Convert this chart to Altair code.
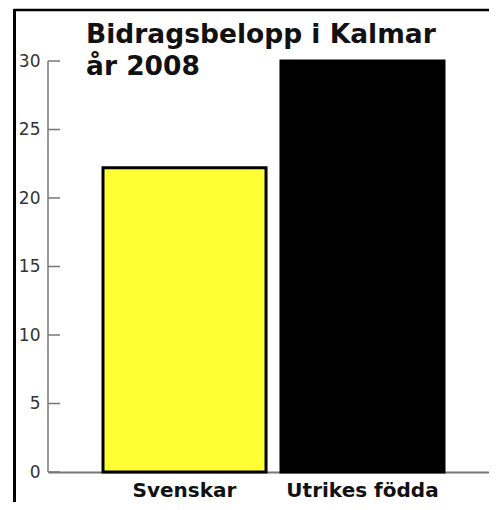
import altair as alt
import pandas as pd

categories = ["Svenskar", "Utrikes födda"]
values = [22.2, 30.0]
bar_colors = ["#ffff33", "#000000"]
title_lines = ["Bidragsbelopp i Kalmar", "år 2008"]
y_ticks = [0, 5, 10, 15, 20, 25, 30]

df = pd.DataFrame({"kategori": categories, "belopp": values})
ticks_df = pd.DataFrame({"v": y_ticks})

W, H = 441, 411

xscale = alt.Scale(domain=categories, paddingInner=0.084, paddingOuter=0.281, align=0.55)
yscale = alt.Scale(domain=[0, 30], nice=False)

bars = alt.Chart(df).mark_bar(stroke="black", strokeWidth=3).encode(
    x=alt.X("kategori:N", scale=xscale, sort=categories,
            axis=alt.Axis(title=None, labelAngle=0, ticks=False, tickSize=0,
                          domain=True, domainColor="#777777", domainWidth=2,
                          labelFont="DejaVu Sans", labelFontWeight="bold",
                          labelFontSize=20, labelColor="#111111",
                          labelBaseline="alphabetic", labelPadding=24)),
    y=alt.Y("belopp:Q", scale=yscale,
            axis=alt.Axis(title=None, values=y_ticks, grid=False, domain=False,
                          ticks=False, tickSize=0, labelPadding=8,
                          labelFont="DejaVu Sans", labelFontSize=17,
                          labelColor="#333333")),
    color=alt.Color("kategori:N", scale=alt.Scale(domain=categories, range=bar_colors),
                    legend=None),
)

# inward tick marks of the y axis
y_tickmarks = alt.Chart(ticks_df).mark_rule(color="#777777", strokeWidth=1.5).encode(
    y=alt.Y("v:Q", scale=yscale), x=alt.value(0), x2=alt.value(12)
)

one = pd.DataFrame({"k": [0]})

y_domain = alt.Chart(one).mark_rule(color="#777777", strokeWidth=1.5).encode(
    x=alt.value(0), y=alt.value(0), y2=alt.value(H)
)

frame_top = alt.Chart(one).mark_rule(color="black", strokeWidth=2.5).encode(
    x=alt.value(-34), x2=alt.value(W + 20), y=alt.value(-51)
)
frame_left = alt.Chart(one).mark_rule(color="black", strokeWidth=3).encode(
    x=alt.value(-33.5), y=alt.value(-52), y2=alt.value(H + 60)
)

title = alt.Chart(one).mark_text(
    text=title_lines, align="left", baseline="alphabetic", font="DejaVu Sans",
    fontWeight="bold", fontSize=26.5, lineHeight=32.5, color="#111111"
).encode(x=alt.value(38), y=alt.value(-18.5))

chart = alt.layer(bars, y_tickmarks, y_domain, frame_top, frame_left, title).properties(
    width=W, height=H,
    background="white",
    autosize=alt.AutoSizeParams(type="none"),
    padding={"left": 40, "top": 53, "right": 0, "bottom": 30},
).configure_view(stroke="transparent", strokeWidth=0)

chart.save("out.html", embed_options={"renderer": "svg", "actions": False})
